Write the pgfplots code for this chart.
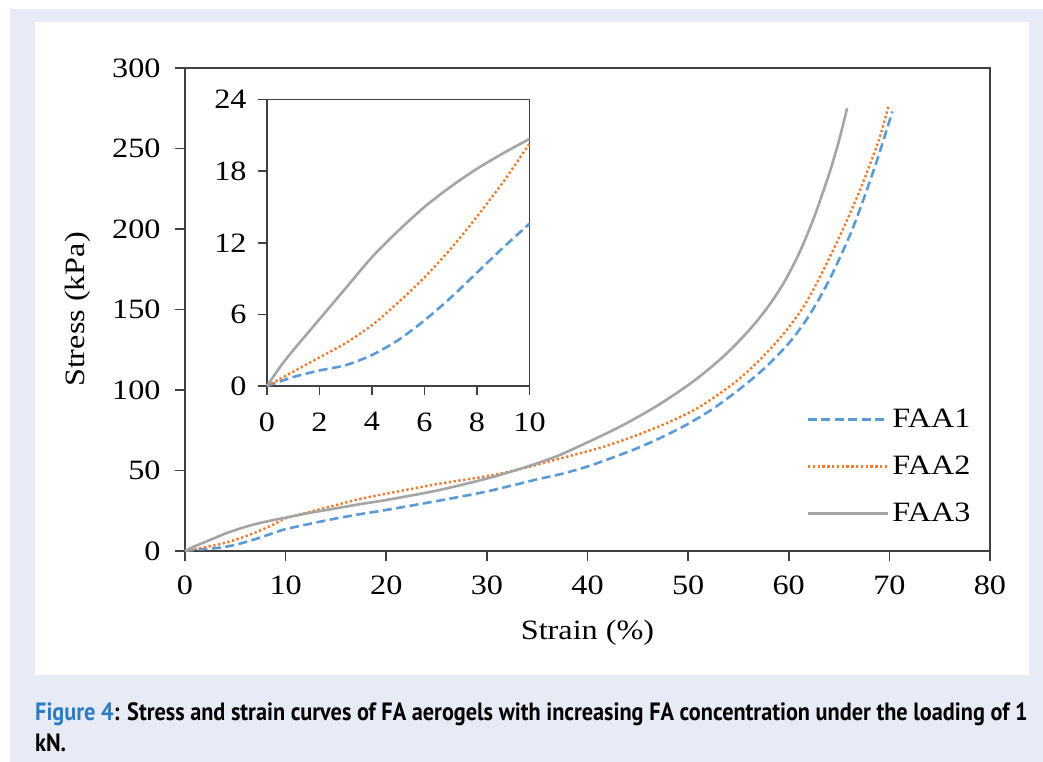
\documentclass[border=0pt]{standalone}
\usepackage{pgfplots}
\pgfplotsset{compat=1.18}
\usepackage{fontspec}
\newfontfamily\chartfont[FakeStretch=1.15]{Liberation Serif}
\newfontfamily\capfont[FakeStretch=0.89]{PT Sans}
\newcommand\cf{\chartfont\fontsize{28bp}{32bp}\selectfont}
\definecolor{bgblue}{RGB}{230,235,246}
\definecolor{figblue}{RGB}{47,123,191}
\definecolor{axisgray}{RGB}{64,64,64}
\definecolor{cblue}{RGB}{91,155,213}
\definecolor{corange}{RGB}{237,125,49}
\definecolor{cgray}{RGB}{165,165,165}

\pgfplotstableread{
x y
0 0
1 0.75
2 1.3
3 1.75
4 2.6
5 3.85
6 5.5
7 7.4
8 9.5
9 11.6
10 13.6
12.5 17
15 20.2
17.5 23
20 25.5
25 31
30 37
35 44.5
37.5 48
40 52.5
42.5 58
45 64
47.5 71
50 79
52.5 88.5
55 100
57.5 113
60 129
62 146
64 168
66 195
67 211
68 228.5
69 247
70.3 273
}\faaone

\pgfplotstableread{
x y
0 0
1 1.2
2 2.4
3 3.6
4 5.1
5 7.0
6 9.1
7 11.5
8 14.2
9 17.1
10 20.3
12.5 24.5
15 28.5
17.5 32.5
20 35.6
25 41.5
30 46.5
33.6 51.3
37 57
41.2 64
44.5 71
47.9 79.5
51 89
54.5 104
57 118
59.5 135
61.5 152
63 169
64.5 188
65.9 207
67 223
68 239
69 256
69.9 276
}\faatwo

\pgfplotstableread{
x y
0 0
0.5 1.6
1 3.0
2 5.6
3 8.2
4 10.8
5 13.0
6 15.0
7 16.7
8 18.2
9 19.5
10 20.7
12.5 23.8
15 26.5
17.5 29.2
20 31.7
25 37.5
30 45
33.6 51.6
37 59
40 67.5
41.5 71.9
43 76.5
44.5 81.5
46 86.8
47.5 92.5
49 98.7
50.5 105.3
52 112.7
53.5 120.8
55 130
56.5 140.3
58 152.2
59.5 166.5
61 184.5
62.5 207
64 234
65 255
65.8 275
}\faathree

\pgfplotsset{
  faa1/.style={draw=cblue, line width=2.6bp, dash pattern=on 9bp off 4.5bp},
  faa2/.style={draw=corange, line width=2.4bp, dash pattern=on 2.4bp off 2.4bp},
  faa3/.style={draw=cgray, line width=2.6bp},
  mystyle/.style={
    scale only axis,
    tick align=outside, xtick pos=left, ytick pos=left,
    axis line style={line width=1.6bp, draw=axisgray},
    every tick/.style={line width=1.6bp, draw=axisgray},
    tick label style={font=\cf, text=black},
    /pgf/number format/assume math mode=true,
    clip=false,
  }
}

\begin{document}
\begin{tikzpicture}
\useasboundingbox (0,0) rectangle (1043bp,-762bp);
\fill[white] (0,0) rectangle (1043bp,-762bp);
\fill[bgblue] (10bp,-9bp) rectangle (1043bp,-762bp);
\fill[white] (35bp,-22bp) rectangle (1029bp,-675bp);

\begin{axis}[mystyle,
  at={(185bp,-551bp)}, anchor=south west,
  width=805bp, height=483bp,
  xmin=0, xmax=80, ymin=0, ymax=300,
  xtick={0,10,...,80}, ytick={0,50,...,300},
  major tick length=10bp,
  xticklabel style={anchor=north, yshift=-11bp},
  yticklabel style={anchor=east, xshift=-11bp},
  xlabel={Strain (\%)}, ylabel={Stress (kPa)},
  every axis x label/.style={at={(axis description cs:0.5,0)}, anchor=center, yshift=-82bp, font=\cf},
  every axis y label/.style={at={(axis description cs:-0.133,0.5)}, anchor=center, rotate=90, font=\cf},
  legend style={draw=none, fill=none, at={(axis description cs:0.772,0.30)}, anchor=north west,
    font=\cf, row sep=21bp, inner sep=0pt, nodes={inner sep=3bp}},
  legend cell align=left,
  legend image code/.code={\draw[#1] (0bp,0bp) -- (80bp,0bp);},
]
\addplot[faa1, smooth, tension=0.5] table[x=x,y=y] {\faaone};
\addlegendentry{FAA1}
\addplot[faa2, smooth, tension=0.5] table[x=x,y=y] {\faatwo};
\addlegendentry{FAA2}
\addplot[faa3, smooth, tension=0.5] table[x=x,y=y] {\faathree};
\addlegendentry{FAA3}
\end{axis}

\begin{axis}[mystyle,
  at={(267bp,-386bp)}, anchor=south west,
  width=262.5bp, height=286.5bp,
  xmin=0, xmax=10, ymin=0, ymax=24,
  xtick={0,2,...,10}, ytick={0,6,...,24},
  major tick length=9bp,
  axis background/.style={fill=white},
  xticklabel style={anchor=north, yshift=-14bp},
  yticklabel style={anchor=east, xshift=-8bp},
]
\addplot[faa1, smooth, tension=0.5, restrict x to domain=0:10] table[x=x,y=y] {\faaone};
\addplot[faa2, smooth, tension=0.5, restrict x to domain=0:10] table[x=x,y=y] {\faatwo};
\addplot[faa3, smooth, tension=0.5, restrict x to domain=0:10] table[x=x,y=y] {\faathree};
\end{axis}

\node[anchor=base west, inner sep=0pt] at (35bp,-720bp) {\capfont\bfseries\fontsize{25bp}{30bp}\selectfont\textcolor{figblue}{Figure 4}: Stress and strain curves of FA aerogels with increasing FA concentration under the loading of 1};
\node[anchor=base west, inner sep=0pt] at (35bp,-751bp) {\capfont\bfseries\fontsize{25bp}{30bp}\selectfont kN.};
\end{tikzpicture}
\end{document}
